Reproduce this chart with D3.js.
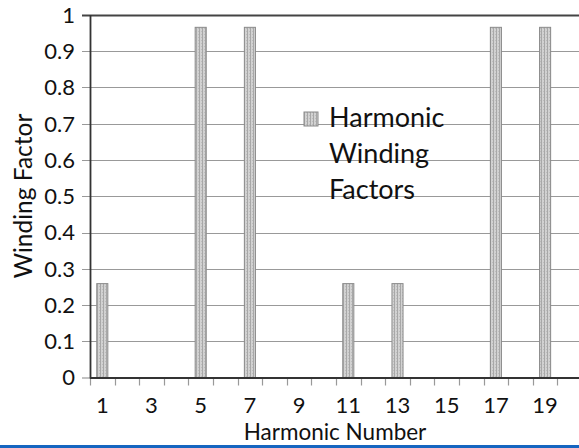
<!DOCTYPE html>
<html><head><meta charset="utf-8">
<script src="https://cdn.jsdelivr.net/npm/d3@7"></script>
<style>body{margin:0;background:#fff}svg{display:block}text{font-family:Lato,"Open Sans",sans-serif;fill:#111}</style>
</head><body>
<svg id="c" width="579" height="448"></svg>
<script>
const categories = [1,2,3,4,5,6,7,8,9,10,11,12,13,14,15,16,17,18,19,20];
const windingFactor = [0.259,0,0,0,0.966,0,0.966,0,0,0,0.259,0,0.259,0,0,0,0.966,0,0.966,0];
const yTicks = [0,0.1,0.2,0.3,0.4,0.5,0.6,0.7,0.8,0.9,1];
const xTickLabels = [1,3,5,7,9,11,13,15,17,19];
const legendLines = ["Harmonic","Winding","Factors"];

const svg = d3.select("#c");
const L = 90, R = 582, T = 15, B = 377.5;
const x = d3.scaleBand().domain(categories).range([L, R]).paddingInner(0.55).paddingOuter(0.275);
const y = d3.scaleLinear().domain([0,1]).range([B, T]);

const defs = svg.append("defs");
const pat = defs.append("pattern").attr("id","pt").attr("patternUnits","userSpaceOnUse")
  .attr("width",3).attr("height",3);
pat.append("rect").attr("width",3).attr("height",3).attr("fill","#d2d2d2");
pat.append("rect").attr("x",1).attr("width",1).attr("height",3).attr("fill","#a8a8a8");
pat.append("rect").attr("x",0).attr("y",1).attr("width",1).attr("height",1).attr("fill","#bdbdbd");

// gridlines
svg.append("g").selectAll("line").data(yTicks.filter(d=>d>0 && d<1)).join("line")
  .attr("x1", L-8).attr("x2", 579).attr("y1", d=>Math.round(y(d))+0.5).attr("y2", d=>Math.round(y(d))+0.5)
  .attr("stroke","#999").attr("stroke-width",1.2);
svg.append("line").attr("x1",L-8).attr("x2",L).attr("y1",B+0.5).attr("y2",B+0.5).attr("stroke","#999").attr("stroke-width",1.2);
svg.append("line").attr("x1",L-8).attr("x2",579).attr("y1",T+0.5).attr("y2",T+0.5).attr("stroke","#444").attr("stroke-width",1.8);

// bars
svg.append("g").selectAll("rect").data(categories.map((c,i)=>({c,v:windingFactor[i]})).filter(d=>d.v>0)).join("rect")
  .attr("x", d=>x(d.c)).attr("width", x.bandwidth())
  .attr("y", d=>y(d.v)).attr("height", d=>B - y(d.v))
  .attr("fill","url(#pt)").attr("stroke","#8a8a8a").attr("stroke-width",1);

// x tick marks at category boundaries
const bounds = categories.map(c => x(c) + x.bandwidth()/2 - x.step()/2);
svg.append("g").selectAll("line").data(bounds.filter(b=>b<579)).join("line")
  .attr("x1", d=>Math.round(d)+0.5).attr("x2", d=>Math.round(d)+0.5).attr("y1", B).attr("y2", B+8)
  .attr("stroke","#999").attr("stroke-width",1.2);

// axes lines
svg.append("line").attr("x1",L).attr("x2",579).attr("y1",B+0.5).attr("y2",B+0.5).attr("stroke","#333").attr("stroke-width",1.8);
svg.append("line").attr("x1",L+0.5).attr("x2",L+0.5).attr("y1",T).attr("y2",B+1).attr("stroke","#333").attr("stroke-width",1.8);

// y labels
svg.append("g").selectAll("text").data(yTicks).join("text")
  .attr("x", 75).attr("y", d=>y(d)).attr("dy","0.36em").attr("text-anchor","end")
  .attr("font-size",22).text(d=>d===0?"0":d===1?"1":d3.format(".1f")(d));
// x labels
svg.append("g").selectAll("text").data(xTickLabels).join("text")
  .attr("x", d=>x(d)+x.bandwidth()/2).attr("y", 413).attr("text-anchor","middle")
  .attr("font-size",22).text(d=>d);

// titles
svg.append("text").attr("x",335).attr("y",440).attr("text-anchor","middle").attr("font-size",22.5).text("Harmonic Number");
svg.append("text").attr("transform","translate(32,196) rotate(-90)").attr("text-anchor","middle").attr("font-size",24.5).text("Winding Factor");

// legend
svg.append("rect").attr("x",304).attr("y",112).attr("width",14).attr("height",14).attr("fill","url(#pt)").attr("stroke","#8a8a8a");
svg.append("g").selectAll("text").data(legendLines).join("text")
  .attr("x",329).attr("y",(d,i)=>127+i*36).attr("font-size",27).text(d=>d);

// blue bottom line
svg.append("rect").attr("x",0).attr("y",445).attr("width",579).attr("height",3).attr("fill","#1565c0");
</script>
</body></html>
